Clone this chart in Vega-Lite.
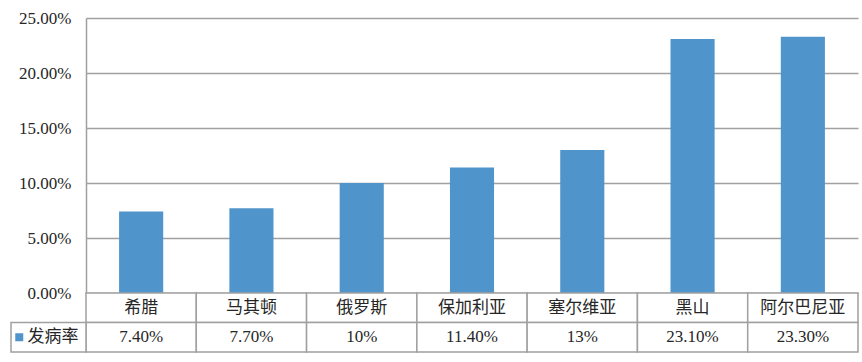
{
  "$schema": "https://vega.github.io/schema/vega-lite/v6.json",
  "width": 772,
  "height": 275,
  "autosize": {"type": "none"},
  "padding": {"left": 86, "top": 18, "right": 4, "bottom": 69},
  "background": "white",
  "config": {"view": {"stroke": null}, "font": "Liberation Serif"},
  "data": {
    "values": [
      {"country": "希腊", "rate": 0.074, "label": "7.40%"},
      {"country": "马其顿", "rate": 0.077, "label": "7.70%"},
      {"country": "俄罗斯", "rate": 0.10, "label": "10%"},
      {"country": "保加利亚", "rate": 0.114, "label": "11.40%"},
      {"country": "塞尔维亚", "rate": 0.13, "label": "13%"},
      {"country": "黑山", "rate": 0.231, "label": "23.10%"},
      {"country": "阿尔巴尼亚", "rate": 0.233, "label": "23.30%"}
    ]
  },
  "resolve": {
    "scale": {"x": "independent", "y": "independent"},
    "axis": {"x": "independent", "y": "independent"}
  },
  "layer": [
    {
      "mark": {"type": "bar", "color": "#4f94cb"},
      "encoding": {
        "x": {
          "field": "country", "type": "nominal", "sort": null,
          "scale": {"paddingInner": 0.6, "paddingOuter": 0.3},
          "axis": null
        },
        "y": {
          "field": "rate", "type": "quantitative",
          "scale": {"domain": [0, 0.25], "nice": false},
          "axis": {
            "values": [0, 0.05, 0.1, 0.15, 0.2, 0.25],
            "format": ".2%",
            "title": null,
            "grid": true,
            "gridColor": "#a0a0a0",
            "gridWidth": 1.5,
            "domainColor": "#a0a0a0",
            "domainWidth": 1.5,
            "ticks": false,
            "tickSize": 0,
            "labelPadding": 15,
            "labelFont": "Liberation Serif",
            "labelFontSize": 17,
            "labelColor": "#262626"
          }
        }
      }
    },
    {
      "resolve": {"scale": {"x": "independent"}},
      "layer": [
        {
          "transform": [{"fold": ["country", "label"], "as": ["row", "text"]}],
          "encoding": {
            "x": {"field": "country", "type": "nominal", "sort": null, "scale": {"paddingInner": 0, "paddingOuter": 0}, "axis": null},
            "y": {"field": "row", "type": "nominal", "scale": {"domain": ["country", "label"], "range": [275, 334], "paddingInner": 0, "paddingOuter": 0}, "axis": null}
          },
          "layer": [
            {"mark": {"type": "rect", "fill": "white", "stroke": "#a0a0a0", "strokeWidth": 1.5}},
            {
              "transform": [{"filter": "datum.row === 'country'"}],
              "mark": {"type": "text", "font": "Noto Sans CJK SC", "fontSize": 17, "color": "#262626"},
              "encoding": {"text": {"field": "text"}}
            },
            {
              "transform": [{"filter": "datum.row === 'label'"}],
              "mark": {"type": "text", "font": "Liberation Serif", "fontSize": 17, "color": "#262626"},
              "encoding": {"text": {"field": "text"}}
            }
          ]
        },
        {
          "data": {"values": [{"series": "发病率", "row": "label"}]},
          "encoding": {
            "x": {"field": "series", "type": "nominal", "scale": {"range": [-75, 0], "paddingInner": 0, "paddingOuter": 0}, "axis": null},
            "y": {"field": "row", "type": "nominal", "axis": null}
          },
          "layer": [
            {"mark": {"type": "rect", "fill": "white", "stroke": "#a0a0a0", "strokeWidth": 1.5}},
            {
              "mark": {"type": "point", "shape": "square", "filled": true, "size": 64, "color": "#4f94cb", "opacity": 1},
              "encoding": {"x": {"field": "series", "type": "nominal", "bandPosition": 0.11}}
            },
            {
              "mark": {"type": "text", "font": "Noto Sans CJK SC", "fontSize": 17, "color": "#262626", "align": "left"},
              "encoding": {
                "x": {"field": "series", "type": "nominal", "bandPosition": 0.22},
                "text": {"field": "series"}
              }
            }
          ]
        }
      ]
    }
  ]
}
